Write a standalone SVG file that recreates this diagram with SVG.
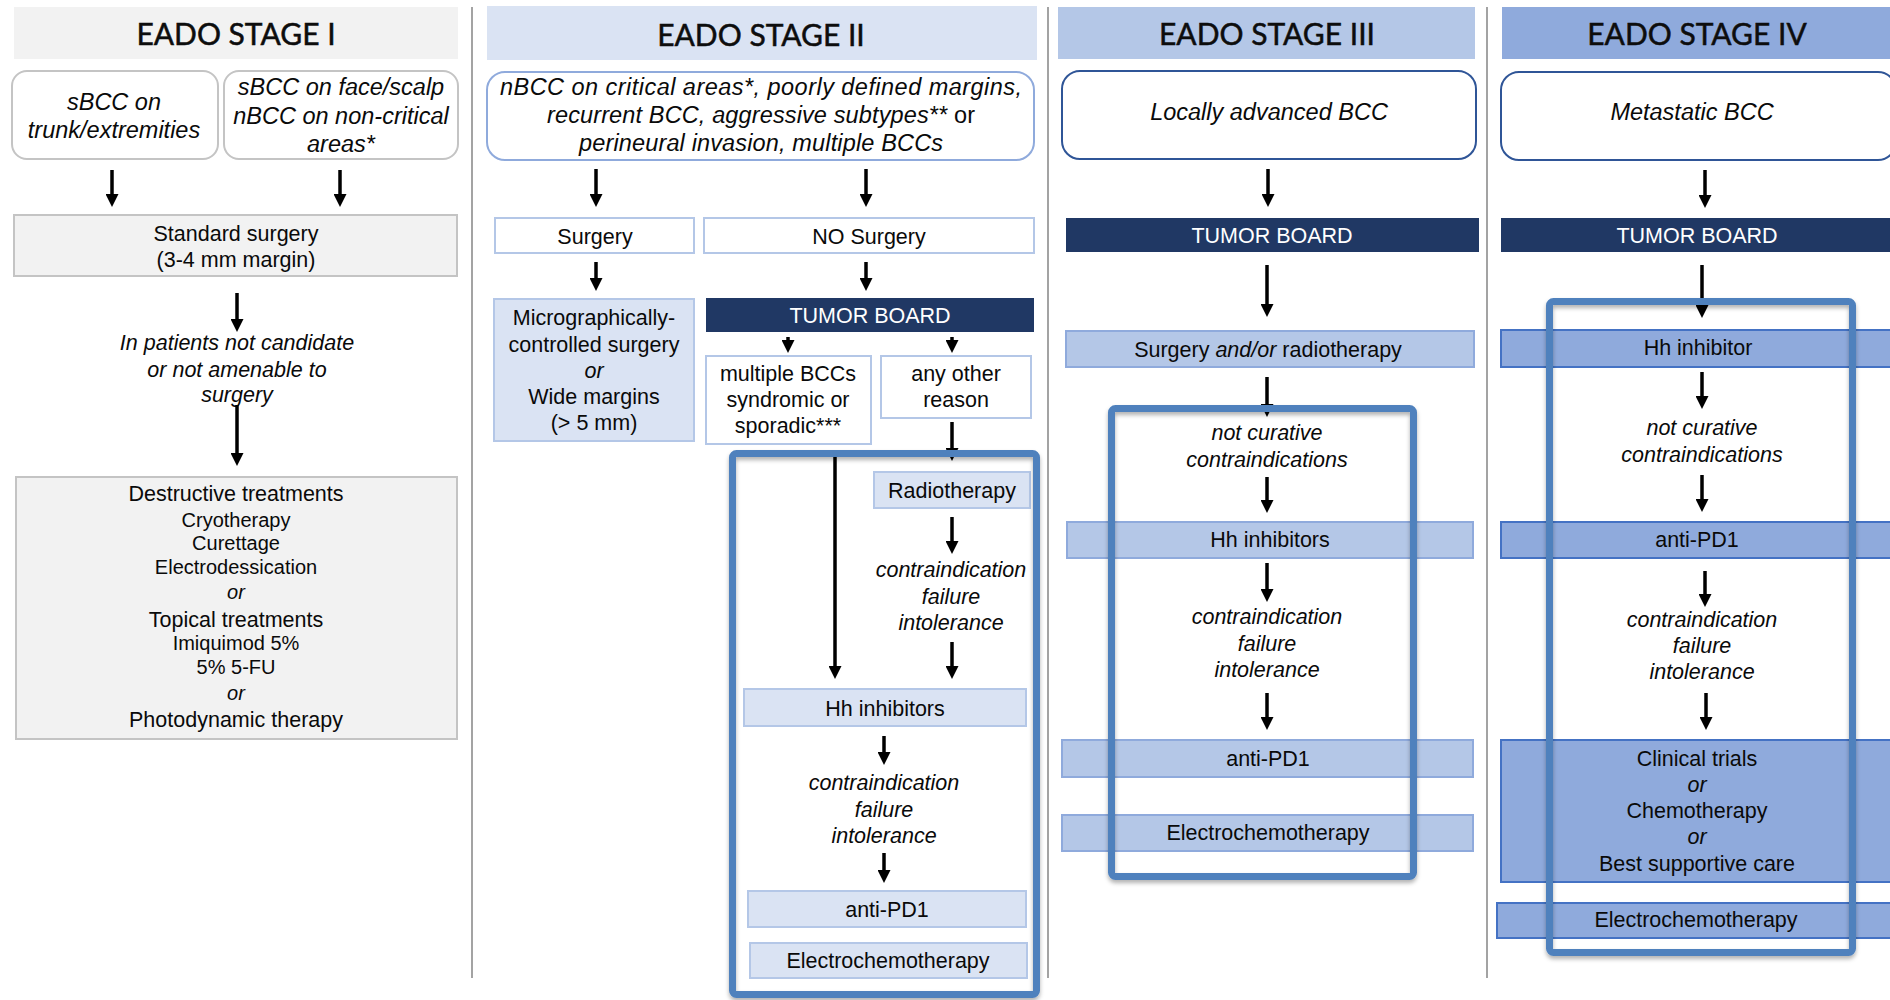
<svg xmlns="http://www.w3.org/2000/svg" width="1890" height="1000" viewBox="0 0 1890 1000">
  <style>
    .hdr { font-family: Lato, "Open Sans", sans-serif; font-size: 30px; fill: #0d0d0d; stroke: #0d0d0d; stroke-width: 0.5; text-anchor: middle; }
    .t { font-family: "Liberation Sans", Arial, sans-serif; font-size: 21.5px; fill: #0a0a0a; text-anchor: middle; }
    .ts { font-family: "Liberation Sans", Arial, sans-serif; font-size: 20px; fill: #0a0a0a; text-anchor: middle; }
    .it { font-style: italic; }
    .big { font-size: 23.5px; }
    .wt { fill: #ffffff; }
    .div { stroke: #a3a3a3; stroke-width: 2; }
    .g1 { fill: #f2f2f2; stroke: #c4c4c4; stroke-width: 2; }
    .r1 { fill: #ffffff; stroke: #c4c4c4; stroke-width: 2; }
    .w2 { fill: #ffffff; stroke: #b4c7e7; stroke-width: 2; }
    .b2 { fill: #dae3f3; stroke: #b4c7e7; stroke-width: 2; }
    .b3 { fill: #b4c7e7; stroke: #8faadc; stroke-width: 2; }
    .b4 { fill: #8faadc; stroke: #4472c4; stroke-width: 2; }
    .r2 { fill: #ffffff; stroke: #8faadc; stroke-width: 2; }
    .r3 { fill: #ffffff; stroke: #2f5597; stroke-width: 2; }
    .tb { fill: #203864; }
    .arr { stroke: #000; stroke-width: 3.5; fill: none; marker-end: url(#ah); }
    .frame { fill: none; stroke: #4f81bd; stroke-width: 7; filter: url(#shadow); }
  </style>
  <defs>
    <marker id="ah" markerUnits="userSpaceOnUse" markerWidth="13" markerHeight="13" viewBox="0 0 13 13" refX="1" refY="6.5" orient="auto">
      <path d="M0,0 L13,6.5 L0,13 z" fill="#000"/>
    </marker>
    <filter id="shadow" x="-5%" y="-5%" width="110%" height="112%">
      <feDropShadow dx="0" dy="3" stdDeviation="2" flood-color="#000" flood-opacity="0.3"/>
    </filter>
  </defs>

  <rect width="1890" height="1000" fill="#ffffff"/>

  <!-- column dividers -->
  <g id="dividers">
    <line class="div" x1="472" y1="7" x2="472" y2="978"/>
    <line class="div" x1="1048" y1="7" x2="1048" y2="978"/>
    <line class="div" x1="1487" y1="7" x2="1487" y2="978"/>
  </g>

  <!-- stage headers -->
  <g id="header-1"><rect x="14" y="7" width="444" height="52" fill="#f2f2f2"/><text class="hdr" x="236" y="45">EADO STAGE I</text></g>
  <g id="header-2"><rect x="487" y="6" width="550" height="54" fill="#dae3f3"/><text class="hdr" x="761" y="46">EADO STAGE II</text></g>
  <g id="header-3"><rect x="1058" y="7" width="417" height="52" fill="#b4c7e7"/><text class="hdr" x="1267" y="45">EADO STAGE III</text></g>
  <g id="header-4"><rect x="1502" y="7" width="388" height="52" fill="#8faadc"/><text class="hdr" x="1697" y="45">EADO STAGE IV</text></g>

  <!-- stage I -->
  <g id="s1-trunk">
    <rect class="r1" x="12" y="71" width="206" height="88" rx="15"/>
    <text class="t it big" x="114"><tspan x="114" y="110">sBCC on</tspan><tspan x="114" y="138">trunk/extremities</tspan></text>
  </g>
  <g id="s1-face">
    <rect class="r1" x="224" y="71" width="234" height="88" rx="15"/>
    <text class="t it big" x="341"><tspan x="341" y="95">sBCC on face/scalp</tspan><tspan x="341" y="124">nBCC on non-critical</tspan><tspan x="341" y="152">areas*</tspan></text>
  </g>
  <g id="s1-standard">
    <rect class="g1" x="14" y="215" width="443" height="61"/>
    <text class="t"><tspan x="236" y="241">Standard surgery</tspan><tspan x="236" y="267">(3-4 mm margin)</tspan></text>
  </g>
  <g id="s1-condition">
    <text class="t it"><tspan x="237" y="350">In patients not candidate</tspan><tspan x="237" y="377">or not amenable to</tspan><tspan x="237" y="402">surgery</tspan></text>
  </g>
  <g id="s1-alternatives">
    <rect class="g1" x="16" y="477" width="441" height="262"/>
    <text class="t" x="236" y="501">Destructive treatments</text>
    <text class="ts" x="236" y="527">Cryotherapy</text>
    <text class="ts" x="236" y="550">Curettage</text>
    <text class="ts" x="236" y="574">Electrodessication</text>
    <text class="ts it" x="236" y="599">or</text>
    <text class="t" x="236" y="627">Topical treatments</text>
    <text class="ts" x="236" y="650">Imiquimod 5%</text>
    <text class="ts" x="236" y="674">5% 5-FU</text>
    <text class="ts it" x="236" y="700">or</text>
    <text class="t" x="236" y="727">Photodynamic therapy</text>
  </g>

  <!-- stage II -->
  <g id="s2-indication">
    <rect class="r2" x="487" y="72" width="547" height="88" rx="18"/>
    <text class="t it big" x="761" y="95" textLength="522" lengthAdjust="spacing">nBCC on critical areas*, poorly defined margins,</text>
    <text class="t it big" x="761" y="123" textLength="428" lengthAdjust="spacing">recurrent BCC, aggressive subtypes** <tspan font-style="normal">or</tspan></text>
    <text class="t it big" x="761" y="151" textLength="364" lengthAdjust="spacing">perineural invasion, multiple BCCs</text>
  </g>
  <g id="s2-surgery">
    <rect class="w2" x="495" y="218" width="199" height="35"/>
    <text class="t" x="595" y="244">Surgery</text>
  </g>
  <g id="s2-nosurgery">
    <rect class="w2" x="704" y="218" width="330" height="35"/>
    <text class="t" x="869" y="244">NO Surgery</text>
  </g>
  <g id="s2-micrographic">
    <rect class="b2" x="494" y="299" width="200" height="142"/>
    <text class="t"><tspan x="594" y="325">Micrographically-</tspan><tspan x="594" y="352">controlled surgery</tspan><tspan x="594" y="378" font-style="italic">or</tspan><tspan x="594" y="404">Wide margins</tspan><tspan x="594" y="430">(&gt; 5 mm)</tspan></text>
  </g>
  <g id="s2-tumorboard">
    <rect class="tb" x="706" y="298" width="328" height="34"/>
    <text class="t wt" x="870" y="323">TUMOR BOARD</text>
  </g>
  <g id="s2-multiple">
    <rect class="w2" x="706" y="356" width="165" height="88"/>
    <text class="t"><tspan x="788" y="381">multiple BCCs</tspan><tspan x="788" y="407">syndromic or</tspan><tspan x="788" y="433">sporadic***</tspan></text>
  </g>
  <g id="s2-other">
    <rect class="w2" x="881" y="356" width="150" height="62"/>
    <text class="t"><tspan x="956" y="381">any other</tspan><tspan x="956" y="407">reason</tspan></text>
  </g>
  <g id="s2-radiotherapy">
    <rect class="b2" x="874" y="472" width="156" height="36"/>
    <text class="t" x="952" y="498">Radiotherapy</text>
  </g>
  <g id="s2-cfi-1">
    <text class="t it"><tspan x="951" y="577">contraindication</tspan><tspan x="951" y="604">failure</tspan><tspan x="951" y="630">intolerance</tspan></text>
  </g>
  <g id="s2-hh">
    <rect class="b2" x="744" y="689" width="282" height="37"/>
    <text class="t" x="885" y="716">Hh inhibitors</text>
  </g>
  <g id="s2-cfi-2">
    <text class="t it"><tspan x="884" y="790">contraindication</tspan><tspan x="884" y="817">failure</tspan><tspan x="884" y="843">intolerance</tspan></text>
  </g>
  <g id="s2-pd1">
    <rect class="b2" x="748" y="891" width="278" height="36"/>
    <text class="t" x="887" y="917">anti-PD1</text>
  </g>
  <g id="s2-ect">
    <rect class="b2" x="750" y="943" width="277" height="35"/>
    <text class="t" x="888" y="968">Electrochemotherapy</text>
  </g>

  <!-- stage III -->
  <g id="s3-indication">
    <rect class="r3" x="1062" y="71" width="414" height="88" rx="18"/>
    <text class="t it big" x="1269" y="120">Locally advanced BCC</text>
  </g>
  <g id="s3-tumorboard">
    <rect class="tb" x="1066" y="218" width="413" height="34"/>
    <text class="t wt" x="1272" y="243">TUMOR BOARD</text>
  </g>
  <g id="s3-local">
    <rect class="b3" x="1066" y="331" width="408" height="36"/>
    <text class="t" x="1268" y="357">Surgery <tspan font-style="italic">and/or</tspan> radiotherapy</text>
  </g>
  <g id="s3-notcurative">
    <text class="t it"><tspan x="1267" y="440">not curative</tspan><tspan x="1267" y="467">contraindications</tspan></text>
  </g>
  <g id="s3-hh">
    <rect class="b3" x="1067" y="522" width="406" height="36"/>
    <text class="t" x="1270" y="547">Hh inhibitors</text>
  </g>
  <g id="s3-cfi">
    <text class="t it"><tspan x="1267" y="624">contraindication</tspan><tspan x="1267" y="651">failure</tspan><tspan x="1267" y="677">intolerance</tspan></text>
  </g>
  <g id="s3-pd1">
    <rect class="b3" x="1062" y="740" width="411" height="37"/>
    <text class="t" x="1268" y="766">anti-PD1</text>
  </g>
  <g id="s3-ect">
    <rect class="b3" x="1062" y="815" width="411" height="36"/>
    <text class="t" x="1268" y="840">Electrochemotherapy</text>
  </g>

  <!-- stage IV -->
  <g id="s4-indication">
    <rect class="r3" x="1501" y="72" width="395" height="88" rx="18"/>
    <text class="t it big" x="1692" y="120">Metastatic BCC</text>
  </g>
  <g id="s4-tumorboard">
    <rect class="tb" x="1501" y="218" width="395" height="34"/>
    <text class="t wt" x="1697" y="243">TUMOR BOARD</text>
  </g>
  <g id="s4-hh">
    <rect class="b4" x="1501" y="330" width="395" height="37"/>
    <text class="t" x="1698" y="355">Hh inhibitor</text>
  </g>
  <g id="s4-notcurative">
    <text class="t it"><tspan x="1702" y="435">not curative</tspan><tspan x="1702" y="462">contraindications</tspan></text>
  </g>
  <g id="s4-pd1">
    <rect class="b4" x="1501" y="522" width="395" height="36"/>
    <text class="t" x="1697" y="547">anti-PD1</text>
  </g>
  <g id="s4-cfi">
    <text class="t it"><tspan x="1702" y="627">contraindication</tspan><tspan x="1702" y="653">failure</tspan><tspan x="1702" y="679">intolerance</tspan></text>
  </g>
  <g id="s4-later">
    <rect class="b4" x="1501" y="740" width="395" height="142"/>
    <text class="t"><tspan x="1697" y="766">Clinical trials</tspan><tspan x="1697" y="792" font-style="italic">or</tspan><tspan x="1697" y="818">Chemotherapy</tspan><tspan x="1697" y="844" font-style="italic">or</tspan><tspan x="1697" y="871">Best supportive care</tspan></text>
  </g>
  <g id="s4-ect">
    <rect class="b4" x="1497" y="903" width="399" height="35"/>
    <text class="t" x="1696" y="927">Electrochemotherapy</text>
  </g>

  <!-- connectors: each line ends 12px short of the arrow tip -->
  <g id="connectors">
    <line class="arr" x1="112" y1="170" x2="112" y2="195"/>
    <line class="arr" x1="340" y1="170" x2="340" y2="195"/>
    <line class="arr" x1="237" y1="293" x2="237" y2="320"/>
    <line class="arr" x1="237" y1="405" x2="237" y2="454"/>

    <line class="arr" x1="596" y1="169" x2="596" y2="195"/>
    <line class="arr" x1="866" y1="169" x2="866" y2="195"/>
    <line class="arr" x1="596" y1="262" x2="596" y2="279"/>
    <line class="arr" x1="866" y1="262" x2="866" y2="279"/>
    <line class="arr" x1="788" y1="337" x2="788" y2="341"/>
    <line class="arr" x1="952" y1="337" x2="952" y2="341"/>
    <line class="arr" x1="952" y1="422" x2="952" y2="449"/>
    <line class="arr" x1="835" y1="453" x2="835" y2="667"/>
    <line class="arr" x1="952" y1="517" x2="952" y2="542"/>
    <line class="arr" x1="952" y1="642" x2="952" y2="667"/>
    <line class="arr" x1="884" y1="736" x2="884" y2="753"/>
    <line class="arr" x1="884" y1="853" x2="884" y2="871"/>

    <line class="arr" x1="1268" y1="169" x2="1268" y2="195"/>
    <line class="arr" x1="1267" y1="265" x2="1267" y2="305"/>
    <line class="arr" x1="1267" y1="377" x2="1267" y2="405"/>
    <line class="arr" x1="1267" y1="477" x2="1267" y2="501"/>
    <line class="arr" x1="1267" y1="563" x2="1267" y2="590"/>
    <line class="arr" x1="1267" y1="693" x2="1267" y2="718"/>

    <line class="arr" x1="1705" y1="170" x2="1705" y2="196"/>
    <line class="arr" x1="1702" y1="265" x2="1702" y2="306"/>
    <line class="arr" x1="1702" y1="372" x2="1702" y2="397"/>
    <line class="arr" x1="1702" y1="475" x2="1702" y2="500"/>
    <line class="arr" x1="1705" y1="571" x2="1705" y2="595"/>
    <line class="arr" x1="1706" y1="693" x2="1706" y2="718"/>
  </g>

  <!-- blue outlines grouping the systemic-therapy sequences -->
  <g id="systemic-frames">
    <rect class="frame" x="732.5" y="453.5" width="304" height="541" rx="4"/>
    <rect class="frame" x="1111.5" y="408.5" width="302" height="468" rx="4"/>
    <rect class="frame" x="1549.5" y="301.5" width="303" height="651" rx="4"/>
  </g>
</svg>
